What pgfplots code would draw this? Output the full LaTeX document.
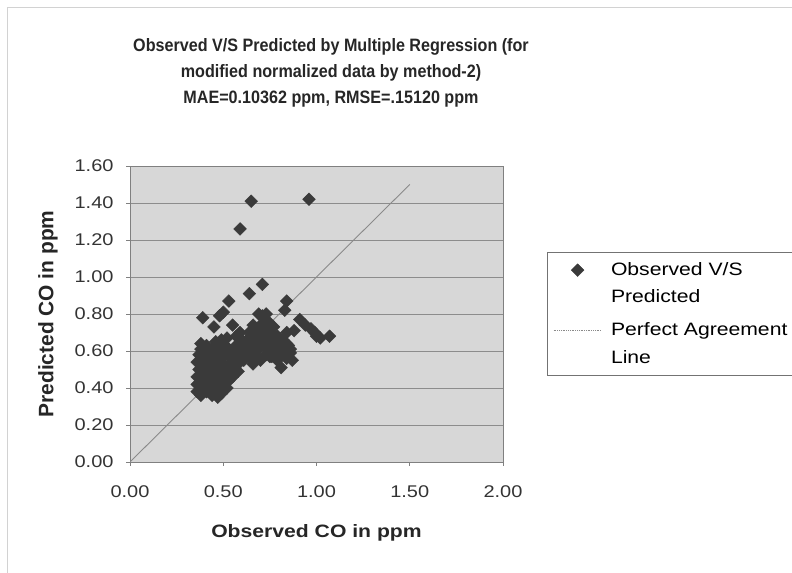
\documentclass[border=0pt]{standalone}
\usepackage{fontspec}
\setmainfont{Liberation Sans}[FakeStretch=1.18]
\newfontfamily\plainsans{Liberation Sans}
\newfontfamily\titlesans{Liberation Sans}[FakeStretch=0.9]
\usepackage{pgfplots}
\usepackage{pgfplotstable}
\pgfplotsset{compat=1.18}

\definecolor{bgc}{HTML}{D7D7D7}
\definecolor{gridc}{HTML}{8C8C8C}
\definecolor{axc}{HTML}{808080}
\definecolor{markc}{HTML}{3A3A3A}
\definecolor{linec}{HTML}{8A8A8A}

\pgfplotsset{
  scatlegend/.style={legend image code/.code={\draw[mark repeat=2, mark phase=2, yshift=13bp, ##1]
    plot coordinates {(0bp,0bp) (24bp,0bp) (48bp,0bp)};}},
  linelegend/.style={legend image code/.code={\draw[linec, densely dotted, line width=0.8pt]
    (0bp,13bp) -- (48bp,13bp);}},
}

% observed vs predicted CO (ppm)
\pgfplotstableread{
obs pred
0.65 1.41
0.59 1.26
0.96 1.42
0.71 0.96
0.64 0.91
0.53 0.87
0.50 0.81
0.48 0.79
0.39 0.78
0.45 0.73
0.55 0.74
0.84 0.87
0.83 0.82
0.91 0.77
0.94 0.74
0.97 0.72
0.99 0.70
1.00 0.68
1.02 0.67
1.07 0.68
0.88 0.71
0.81 0.51
0.86 0.61
0.84 0.64
0.75 0.57
0.36 0.38
0.36 0.42
0.36 0.46
0.37 0.50
0.36 0.54
0.37 0.58
0.38 0.61
0.38 0.36
0.39 0.40
0.39 0.44
0.39 0.48
0.40 0.52
0.39 0.56
0.40 0.60
0.41 0.63
0.41 0.38
0.42 0.42
0.42 0.46
0.42 0.50
0.43 0.55
0.43 0.59
0.44 0.36
0.44 0.40
0.45 0.44
0.44 0.48
0.45 0.52
0.45 0.57
0.45 0.62
0.46 0.65
0.47 0.35
0.47 0.39
0.47 0.43
0.48 0.47
0.47 0.51
0.48 0.55
0.48 0.60
0.49 0.37
0.50 0.41
0.50 0.45
0.50 0.49
0.50 0.53
0.51 0.58
0.51 0.63
0.52 0.40
0.53 0.44
0.52 0.48
0.53 0.52
0.54 0.56
0.53 0.61
0.55 0.46
0.55 0.50
0.56 0.54
0.56 0.59
0.57 0.63
0.58 0.49
0.58 0.53
0.59 0.57
0.60 0.61
0.61 0.55
0.62 0.65
0.38 0.64
0.52 0.67
0.49 0.66
0.62 0.60
0.63 0.66
0.64 0.57
0.65 0.62
0.66 0.69
0.66 0.53
0.67 0.58
0.68 0.65
0.68 0.72
0.69 0.61
0.70 0.55
0.70 0.68
0.71 0.75
0.71 0.79
0.72 0.63
0.72 0.71
0.73 0.58
0.74 0.66
0.74 0.76
0.75 0.62
0.75 0.70
0.76 0.57
0.77 0.65
0.77 0.73
0.78 0.60
0.79 0.68
0.79 0.55
0.80 0.63
0.81 0.58
0.82 0.66
0.83 0.61
0.84 0.56
0.84 0.70
0.85 0.63
0.86 0.59
0.87 0.55
0.69 0.80
0.73 0.80
0.64 0.70
0.66 0.74
0.60 0.66
0.59 0.70
0.57 0.68
}\codata

\begin{document}
\begin{tikzpicture}
\useasboundingbox (0,0) rectangle (792bp,573bp);
\draw[gray!35] (7bp,-5bp) |- (800bp,566bp);
\node[align=center, text=black!85,
      font=\titlesans\bfseries\fontsize{18}{26}\selectfont]
  at (331bp,500bp) {Observed V/S Predicted by Multiple Regression (for\\
  modified normalized data by method-2)\\
  MAE=0.10362 ppm, RMSE=.15120 ppm};
\begin{axis}[
  at={(130bp,111bp)}, anchor=south west,
  scale only axis, width=373bp, height=296bp,
  xmin=0, xmax=2, ymin=0, ymax=1.6,
  xtick={0,0.5,1,1.5,2},
  ytick={0,0.2,0.4,0.6,0.8,1.0,1.2,1.4,1.6},
  xtick pos=lower, ytick pos=left,
  tick align=outside, major tick length=4bp,
  tick style={axc, line width=0.6pt},
  axis background/.style={fill=bgc},
  ymajorgrids, grid style={gridc, line width=0.8pt},
  axis line style={axc, line width=0.8pt},
  /pgf/number format/fixed, /pgf/number format/fixed zerofill,
  /pgf/number format/precision=2, /pgf/number format/assume math mode=true,
  ticklabel style={font=\fontsize{17}{20}\selectfont, text=black!80},
  xticklabel style={yshift=-16bp},
  yticklabel style={xshift=-9bp},
  xlabel={Observed CO in ppm}, ylabel={Predicted CO in ppm},
  every axis x label/.style={at={(axis description cs:0.5,-0.24)}, anchor=center,
    font=\bfseries\fontsize{18}{20}\selectfont, text=black!85},
  every axis y label/.style={at={(axis description cs:-0.22,0.5)}, anchor=center,
    rotate=90, font=\plainsans\bfseries\fontsize{21}{22}\selectfont, text=black!85},
  legend style={at={(axis description cs:1.118,0.71)}, anchor=north west,
    draw=black!55, fill=white, font=\fontsize{18}{28}\selectfont,
    cells={anchor=west, align=left}, row sep=14bp, column sep=7bp,
    inner xsep=6bp, inner ysep=8bp},
]
\addplot[only marks, mark=square*, mark size=4.5bp,
  mark options={rotate=45, fill=markc, draw=markc}, scatlegend]
  table[x=obs, y=pred] {\codata};
\addlegendentry{Observed V/S\\Predicted}
\addplot[linec, line width=0.9pt, linelegend]
  coordinates {(0,0) (1.5,1.5)};
\addlegendentry{Perfect Agreement\\Line}
\end{axis}
\end{tikzpicture}
\end{document}
